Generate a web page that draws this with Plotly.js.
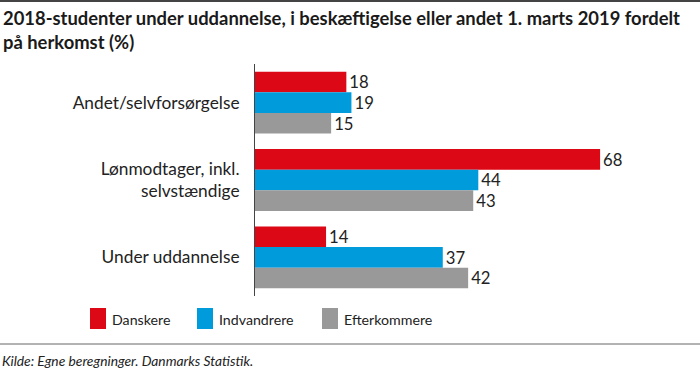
<!DOCTYPE html>
<html><head><meta charset="utf-8">
<script src="https://cdn.plot.ly/plotly-3.0.1.min.js"></script>
<style>html,body{margin:0;padding:0;background:#fff}#c{width:700px;height:372px}</style>
</head><body><div id="c"></div>
<script>
const categories = ["Andet/selvforsørgelse", "Lønmodtager, inkl.<br>selvstændige", "Under uddannelse"];
const seriesNames = ["Danskere", "Indvandrere", "Efterkommere"];
const danskere = [18, 68, 14];
const indvandrere = [19, 44, 37];
const efterkommere = [15, 43, 42];
const colors = ["#dc0816", "#009bdb", "#999999"];
const values = [danskere, indvandrere, efterkommere];
const titleText = "<b>2018-studenter under uddannelse, i beskæftigelse eller andet 1. marts 2019 fordelt<br>på herkomst (%)</b>";
const sourceText = "<i>Kilde: Egne beregninger. Danmarks Statistik.</i>";

const W = 700, H = 372, mL = 255, mR = 39, mT = 64, mB = 76;
const pw = W - mL - mR, ph = H - mT - mB;
const px = X => (X - mL) / pw;
const py = Y => (H - mB - Y) / ph;
const FONT = "Lato, 'Open Sans', sans-serif";

const traces = values.map((v, i) => ({
  type: "bar", orientation: "h", name: seriesNames[i],
  x: v, y: categories,
  marker: {color: colors[i]},
  text: v.map(String), textposition: "outside", cliponaxis: false,
  textfont: {family: FONT, size: 17, color: "#222"},
  showlegend: false
}));

const shapes = [
  {type: "line", xref: "paper", yref: "paper", x0: px(0), x1: px(700), y0: py(1), y1: py(1), line: {color: "#444", width: 2}},
  {type: "line", xref: "paper", yref: "paper", x0: px(0), x1: px(700), y0: py(344), y1: py(344), line: {color: "#666", width: 1}}
];
const annotations = [
  {xref: "paper", yref: "paper", x: px(1), y: py(5), xanchor: "left", yanchor: "top", align: "left", showarrow: false,
   text: titleText, font: {family: FONT, size: 18.4, color: "#1a1a1a"}},
  {xref: "paper", yref: "paper", x: px(0), y: py(360), xanchor: "left", yanchor: "middle", showarrow: false,
   text: sourceText, font: {family: FONT, size: 13.8, color: "#222"}}
];
const legX = [90, 197, 322];
seriesNames.forEach((n, i) => {
  shapes.push({type: "rect", xref: "paper", yref: "paper", x0: px(legX[i]), x1: px(legX[i] + 16),
    y0: py(329), y1: py(308), fillcolor: colors[i], line: {width: 0}});
  annotations.push({xref: "paper", yref: "paper", x: px(legX[i] + 20), y: py(319), xanchor: "left", yanchor: "middle",
    showarrow: false, text: n, font: {family: FONT, size: 14.2, color: "#222"}});
});

const layout = {
  width: W, height: H, margin: {l: mL, r: mR, t: mT, b: mB},
  paper_bgcolor: "#fff", plot_bgcolor: "#fff",
  barmode: "group", bargap: 0.2, bargroupgap: 0,
  xaxis: {range: [0, 80], showgrid: false, zeroline: false, showticklabels: false, showline: false, fixedrange: true},
  yaxis: {autorange: "reversed", showgrid: false, zeroline: false, showline: true, linecolor: "#444", linewidth: 1,
    ticks: "", ticklabelstandoff: 11, tickfont: {family: FONT, size: 17.3, color: "#222"}},
  shapes, annotations, font: {family: FONT}
};
Plotly.newPlot("c", traces, layout, {displayModeBar: false, staticPlot: true});
</script></body></html>
